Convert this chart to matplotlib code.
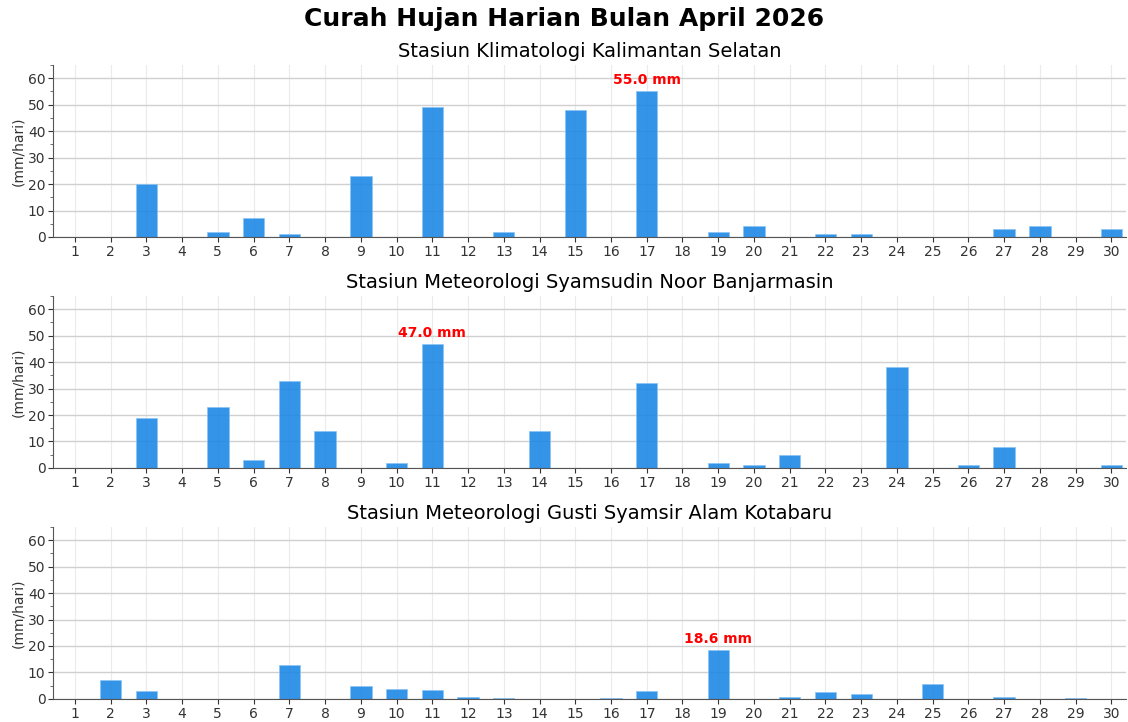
import matplotlib
matplotlib.use("Agg")
import matplotlib.pyplot as plt
from matplotlib.ticker import MultipleLocator

days = list(range(1, 31))

stations = [
    "Stasiun Klimatologi Kalimantan Selatan",
    "Stasiun Meteorologi Syamsudin Noor Banjarmasin",
    "Stasiun Meteorologi Gusti Syamsir Alam Kotabaru",
]

# daily rainfall (mm/hari), day 1..30
rain_klimatologi = [0, 0, 20, 0, 2, 7, 1, 0, 23, 0,
                    49, 0, 2, 0, 48, 0, 55, 0, 2, 4,
                    0, 1, 1, 0, 0, 0, 3, 4, 0, 3]
rain_syamsudin = [0, 0, 19, 0, 23, 3, 33, 14, 0, 2,
                  47, 0, 0, 14, 0, 0, 32, 0, 2, 1,
                  5, 0, 0, 38, 0, 1, 8, 0, 0, 1]
rain_kotabaru = [0, 7, 2.9, 0, 0, 0, 13, 0, 4.9, 3.9,
                 3.2, 0.8, 0.15, 0, 0, 0.4, 3, 0, 18.6, 0,
                 0.8, 2.7, 2, 0, 5.6, 0, 0.9, 0, 0.4, 0]

series = [rain_klimatologi, rain_syamsudin, rain_kotabaru]

fig, axes = plt.subplots(3, 1, figsize=(11.28, 7.22), dpi=100)
fig.subplots_adjust(left=0.047, right=0.998, top=0.910, bottom=0.032, hspace=0.343)
fig.suptitle("Curah Hujan Harian Bulan April 2026", fontsize=18, fontweight="bold", y=0.99)

for ax, name, vals in zip(axes, stations, series):
    ax.set_axisbelow(True)
    ax.grid(axis="y", color="#d0d0d0", linewidth=1.0)
    ax.grid(axis="x", color="#ebebeb", linewidth=0.8)
    ax.bar(days, vals, width=0.6, color="#1E88E5", alpha=0.9,
           edgecolor="#8cc4f2", linewidth=0.6)
    ax.set_xlim(0.39, 30.4)
    ax.set_ylim(0, 65)
    ax.set_xticks(days)
    ax.yaxis.set_major_locator(MultipleLocator(10))
    ax.yaxis.set_minor_locator(MultipleLocator(5))
    ax.tick_params(axis="both", labelsize=10, colors="#333333", length=3.5, pad=2)
    ax.tick_params(axis="y", which="minor", length=2.5, colors="#555555")
    ax.set_ylabel("(mm/hari)", fontsize=10, color="#333333", labelpad=2)
    ax.set_title(name, fontsize=14, pad=6)
    for s in ["top", "right"]:
        ax.spines[s].set_visible(False)
    for s in ["left", "bottom"]:
        ax.spines[s].set_color("#555555")
    imax = max(range(len(vals)), key=lambda i: vals[i])
    ax.text(days[imax], vals[imax] + 1.5, f"{vals[imax]:.1f} mm", color="red",
            fontsize=10, fontweight="bold", ha="center", va="bottom")

fig.savefig("out.png", dpi=100)
